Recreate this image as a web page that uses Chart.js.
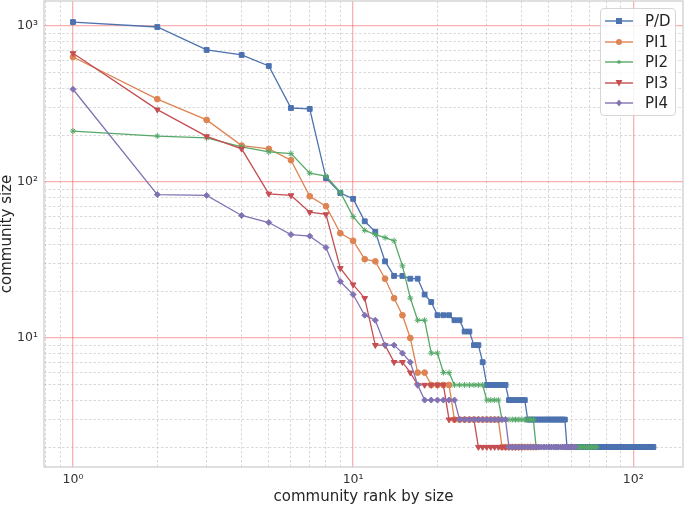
<!DOCTYPE html>
<html>
<head>
<meta charset="utf-8">
<title>community size by rank</title>
<script src="https://cdn.jsdelivr.net/npm/chart.js@4.4.1/dist/chart.umd.min.js"></script>
<style>
    html, body { margin: 0; padding: 0; background: #fff; }
    #wrap { position: relative; width: 685px; height: 505px; }
    #legend {
        position: absolute; left: 600px; top: 8px; width: 76px; height: 108px;
        box-sizing: border-box; border: 1px solid #d6d6d6; border-radius: 4px;
        background: rgba(255, 255, 255, 0.85);
        font-family: 'DejaVu Sans', sans-serif; font-size: 15px; color: #262626;
    }
    .row { position: absolute; left: 0; height: 20px; width: 76px; }
    .row svg { position: absolute; left: 4px; top: 5px; }
    .row span { position: absolute; left: 44px; top: 1px; line-height: 18px; }
</style>
</head>
<body>
<div id="wrap">
    <canvas id="rankChart"></canvas>
    <div id="legend"></div>
</div>
<script>
// Community sizes, index 0 = rank 1
const seriesNames = ['P/D', 'PI1', 'PI2', 'PI3', 'PI4'];

const pdSizes = [1060, 985, 702, 652, 554, 298, 294, 106, 85, 78,
    56, 48, 31, 25, 25, 24, 24, 19, 17, 14,
    14, 14, 13, 13, 11, 11, 9, 9, 7,
    5, 5, 5, 5, 5, 5,
    4, 4, 4, 4, 4, 4,
    3, 3, 3, 3, 3, 3, 3, 3, 3, 3, 3, 3, 3, 3, 3, 3,
    2, 2, 2, 2, 2, 2, 2, 2, 2, 2,
    2, 2, 2, 2, 2, 2, 2, 2, 2, 2,
    2, 2, 2, 2, 2, 2, 2, 2, 2, 2,
    2, 2, 2, 2, 2, 2, 2, 2, 2, 2,
    2, 2, 2, 2, 2, 2, 2, 2, 2, 2,
    2, 2, 2, 2, 2, 2, 2, 2, 2, 2,
    2];

const pi1Sizes = [633, 340, 250, 171, 163, 138, 81, 70, 47, 42,
    32, 31, 24, 18, 14, 10, 6, 6,
    5, 5, 5, 5,
    3, 3, 3, 3, 3, 3, 3, 3, 3, 3, 3,
    2, 2, 2, 2, 2, 2, 2, 2, 2, 2, 2, 2];

const pi2Sizes = [212, 197, 192, 168, 156, 152, 114, 109, 86, 60,
    49, 46, 44, 42, 29, 18, 13, 13, 8, 8, 6, 6,
    5, 5, 5, 5, 5, 5, 5,
    4, 4, 4, 4,
    3, 3, 3, 3, 3, 3, 3, 3, 3, 3, 3,
    2, 2, 2, 2, 2, 2, 2, 2, 2, 2,
    2, 2, 2, 2, 2, 2, 2, 2, 2, 2,
    2, 2, 2, 2, 2, 2, 2, 2, 2, 2];

const pi3Sizes = [668, 291, 196, 163, 84, 82, 64, 62, 28, 22,
    18, 9, 9, 7, 7, 6,
    5, 5, 5, 5, 5,
    3, 3, 3, 3, 3, 3,
    2, 2, 2, 2, 2, 2, 2, 2, 2, 2, 2, 2, 2];

const pi4Sizes = [393, 83, 82, 61, 55, 46, 45, 38, 23, 19,
    14, 13, 9, 9, 8, 7, 5,
    4, 4, 4, 4, 4, 4,
    3, 3, 3, 3, 3, 3, 3, 3, 3, 3, 3, 3,
    2, 2, 2, 2, 2, 2, 2, 2, 2, 2,
    2, 2, 2, 2, 2, 2, 2, 2, 2, 2,
    2, 2, 2, 2, 2, 2, 2];

// Grid / tick positions
const xTickValues = [0.8, 0.9, 1, 2, 3, 4, 5, 6, 7, 8, 9, 10, 20, 30, 40, 50, 60, 70, 80, 90, 100];
const yTickValues = [2, 3, 4, 5, 6, 7, 8, 9, 10, 20, 30, 40, 50, 60, 70, 80, 90, 100,
    200, 300, 400, 500, 600, 700, 800, 900, 1000];
const tickLabels = { 1: '10\u2070', 10: '10\u00b9', 100: '10\u00b2', 1000: '10\u00b3' };

const colors = ['#4c72b0', '#dd8452', '#55a868', '#c44e52', '#8172b3'];
const markers = [
    { style: 'rect', radius: 3.4, rotation: 0 },
    { style: 'circle', radius: 2.9, rotation: 0 },
    { style: 'star', radius: 3, rotation: 0 },
    { style: 'triangle', radius: 3.3, rotation: 180 },
    { style: 'rectRot', radius: 3, rotation: 0 }
];

function isDecade(v) {
    const l = Math.log10(v);
    return Math.abs(l - Math.round(l)) < 1e-9;
}

function toPoints(sizes) {
    return sizes.map((v, i) => ({ x: i + 1, y: v }));
}

const allSizes = [pdSizes, pi1Sizes, pi2Sizes, pi3Sizes, pi4Sizes];

const datasets = allSizes.map((sizes, i) => ({
    label: seriesNames[i],
    data: toPoints(sizes),
    borderColor: colors[i],
    backgroundColor: colors[i],
    borderWidth: 1.3,
    pointStyle: markers[i].style,
    pointRadius: markers[i].radius,
    pointRotation: markers[i].rotation,
    pointBorderWidth: 1,
    pointBorderColor: colors[i],
    pointBackgroundColor: colors[i],
    tension: 0,
    order: allSizes.length - 1 - i   // last series on top, like matplotlib
}));

function gridOpts() {
    return {
        drawTicks: false,
        color: (ctx) => (ctx.tick && isDecade(ctx.tick.value)) ? 'rgba(240, 70, 70, 0.42)' : 'rgba(160, 160, 160, 0.5)',
        lineWidth: (ctx) => (ctx.tick && isDecade(ctx.tick.value)) ? 1.3 : 0.8
    };
}

function borderOpts() {
    return {
        display: false,
        dash: (ctx) => (ctx.tick && !isDecade(ctx.tick.value)) ? [2.5, 2] : []
    };
}

// no extra label padding, so the plot area fills the canvas like the original
function noPadding(scale) {
    scale.paddingTop = 0;
    scale.paddingBottom = 0;
    scale.paddingLeft = 0;
    scale.paddingRight = 0;
}

// Light frame round the plot area
const frame = {
    id: 'frame',
    afterDraw(chart) {
        const { ctx, chartArea: { left, right, top, bottom } } = chart;
        ctx.save();
        ctx.strokeStyle = '#cccccc';
        ctx.lineWidth = 1.25;
        ctx.strokeRect(left, top, right - left, bottom - top);
        ctx.restore();
    }
};

Chart.defaults.font.family = "'DejaVu Sans', sans-serif";
Chart.defaults.color = '#333333';

new Chart(document.getElementById('rankChart'), {
    type: 'line',
    data: { datasets: datasets },
    options: {
        responsive: true,
        maintainAspectRatio: false,
        animation: false,
        events: [],
        layout: { autoPadding: false, padding: { top: 1, right: 2, left: 0, bottom: 0 } },
        plugins: {
            legend: { display: false },
            tooltip: { enabled: false }
        },
        scales: {
            x: {
                type: 'logarithmic',
                min: 0.788,
                max: 150.5,
                afterBuildTicks: (scale) => {
                    scale.ticks = xTickValues.map(v => ({ value: v, major: isDecade(v) }));
                },
                afterFit: (scale) => { scale.height = 38; noPadding(scale); },
                grid: gridOpts(),
                border: borderOpts(),
                ticks: {
                    autoSkip: false,
                    maxRotation: 0,
                    padding: 5,
                    font: { size: 12.5 },
                    callback: (v) => tickLabels[v] || ''
                },
                title: {
                    display: true,
                    text: 'community rank by size',
                    font: { size: 15, lineHeight: 1.0 },
                    padding: 0,
                    color: '#262626'
                }
            },
            y: {
                type: 'logarithmic',
                min: 1.49,
                max: 1446,
                afterBuildTicks: (scale) => {
                    scale.ticks = yTickValues.map(v => ({ value: v, major: isDecade(v) }));
                },
                afterFit: (scale) => { scale.width = 44; noPadding(scale); },
                grid: gridOpts(),
                border: borderOpts(),
                ticks: {
                    autoSkip: false,
                    padding: 6,
                    font: { size: 12.5 },
                    callback: (v) => tickLabels[v] || ''
                },
                title: {
                    display: true,
                    text: 'community size',
                    font: { size: 15, lineHeight: 1.0 },
                    padding: 0,
                    color: '#262626'
                }
            }
        }
    },
    plugins: [frame]
});

// Legend: line with marker in the middle, like matplotlib
function markerSvg(i) {
    const c = colors[i];
    const cx = 14, cy = 5;
    switch (markers[i].style) {
        case 'rect':
            return `<rect x="${cx - 3}" y="${cy - 3}" width="6" height="6" fill="${c}"/>`;
        case 'circle':
            return `<circle cx="${cx}" cy="${cy}" r="3" fill="${c}"/>`;
        case 'star':
            return `<circle cx="${cx}" cy="${cy}" r="1.8" fill="${c}"/>`;
        case 'triangle':
            return `<polygon points="${cx - 3.5},${cy - 3} ${cx + 3.5},${cy - 3} ${cx},${cy + 3.5}" fill="${c}"/>`;
        default:
            return `<polygon points="${cx},${cy - 3.5} ${cx + 2.8},${cy} ${cx},${cy + 3.5} ${cx - 2.8},${cy}" fill="${c}"/>`;
    }
}

const legendEl = document.getElementById('legend');
seriesNames.forEach((name, i) => {
    const row = document.createElement('div');
    row.className = 'row';
    row.style.top = (2 + i * 20.5) + 'px';
    row.innerHTML = `<svg width="28" height="10" viewBox="0 0 28 10">
        <line x1="0" y1="5" x2="28" y2="5" stroke="${colors[i]}" stroke-width="1.4"/>
        ${markerSvg(i)}
    </svg><span>${name}</span>`;
    legendEl.appendChild(row);
});
</script>
</body>
</html>
